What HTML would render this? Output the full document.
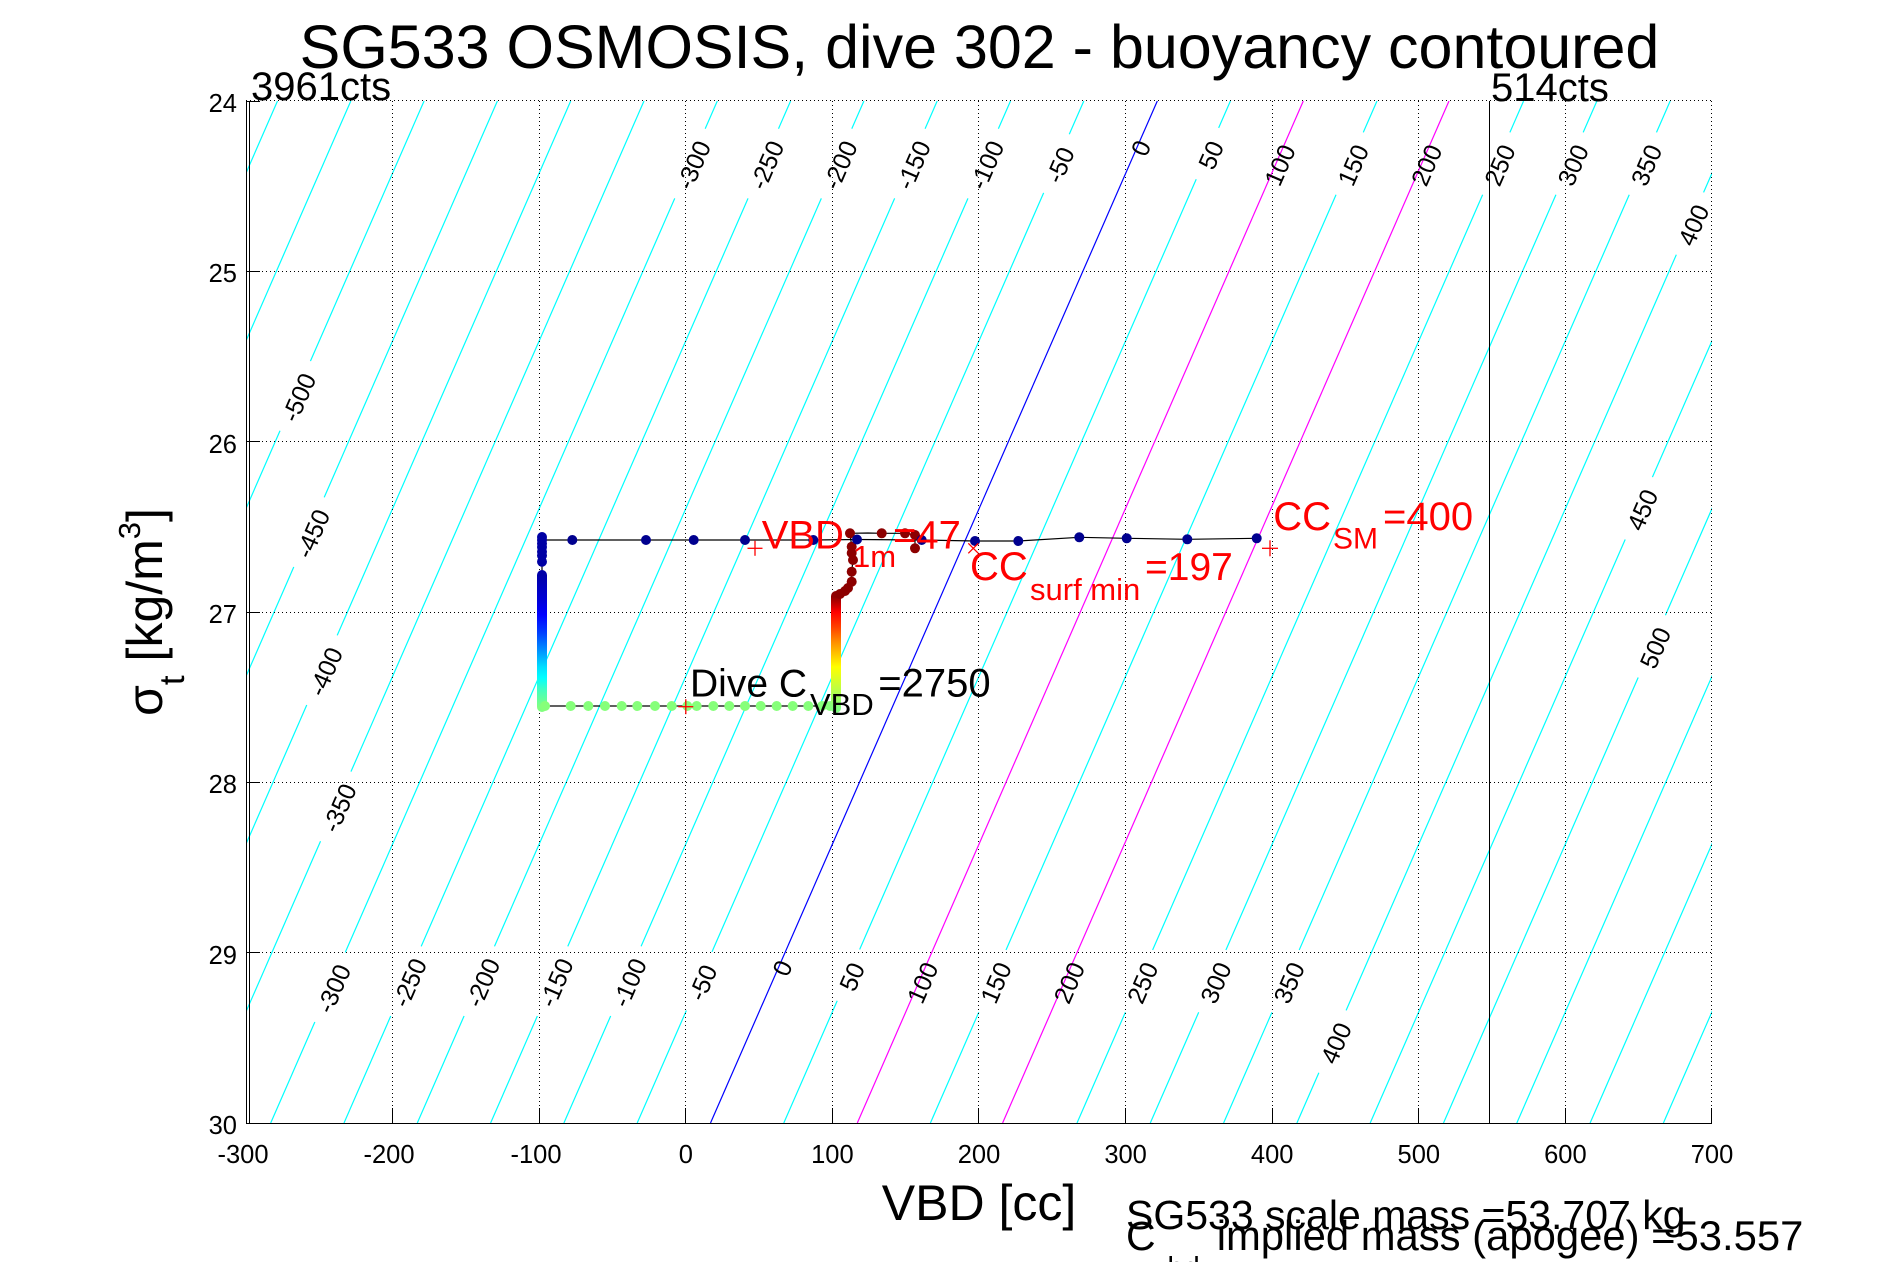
<!DOCTYPE html>
<html>
<head>
<meta charset="utf-8">
<style>
  html, body { margin: 0; padding: 0; background: #ffffff; }
  svg { display: block; }
  text { font-family: "Liberation Sans", Arial, Helvetica, sans-serif; }
</style>
</head>
<body>
<svg xmlns="http://www.w3.org/2000/svg" width="1891" height="1262" viewBox="0 0 1891 1262">
  <defs>
    <clipPath id="plot">
      <rect x="246" y="101" width="1466" height="1022"/>
    </clipPath>
    <mask id="gap" maskUnits="userSpaceOnUse" x="0" y="0" width="1891" height="1262">
      <rect x="0" y="0" width="1891" height="1262" fill="#fff"/>
      <g fill="#000">
        <rect x="-38" y="-13" width="76" height="26" transform="translate(693.3,165) rotate(-66.4)"/>
        <rect x="-38" y="-13" width="76" height="26" transform="translate(766.6,165) rotate(-66.4)"/>
        <rect x="-38" y="-13" width="76" height="26" transform="translate(839.9,165) rotate(-66.4)"/>
        <rect x="-38" y="-13" width="76" height="26" transform="translate(913.2,165) rotate(-66.4)"/>
        <rect x="-38" y="-13" width="76" height="26" transform="translate(986.5,165) rotate(-66.4)"/>
        <rect x="-32" y="-13" width="64" height="26" transform="translate(1059.8,165) rotate(-66.4)"/>
        <rect x="-21" y="-13" width="42" height="26" transform="translate(1140.6,148) rotate(-66.4)"/>
        <rect x="-28" y="-13" width="56" height="26" transform="translate(1210.8,155) rotate(-66.4)"/>
        <rect x="-34" y="-13" width="68" height="26" transform="translate(1279.7,165) rotate(-66.4)"/>
        <rect x="-34" y="-13" width="68" height="26" transform="translate(1353,165) rotate(-66.4)"/>
        <rect x="-34" y="-13" width="68" height="26" transform="translate(1426.3,165) rotate(-66.4)"/>
        <rect x="-34" y="-13" width="68" height="26" transform="translate(1499.6,165) rotate(-66.4)"/>
        <rect x="-34" y="-13" width="68" height="26" transform="translate(1572.9,165) rotate(-66.4)"/>
        <rect x="-34" y="-13" width="68" height="26" transform="translate(1646.2,165) rotate(-66.4)"/>
        <rect x="-34" y="-13" width="68" height="26" transform="translate(1693.3,225) rotate(-66.4)"/>
        <rect x="-38" y="-13" width="76" height="26" transform="translate(333.4,988.6) rotate(-66.4)"/>
        <rect x="-38" y="-13" width="76" height="26" transform="translate(409.3,982.6) rotate(-66.4)"/>
        <rect x="-38" y="-13" width="76" height="26" transform="translate(482.6,982.6) rotate(-66.4)"/>
        <rect x="-38" y="-13" width="76" height="26" transform="translate(555.9,982.6) rotate(-66.4)"/>
        <rect x="-38" y="-13" width="76" height="26" transform="translate(629.2,982.6) rotate(-66.4)"/>
        <rect x="-32" y="-13" width="64" height="26" transform="translate(702.5,982.6) rotate(-66.4)"/>
        <rect x="-21" y="-13" width="42" height="26" transform="translate(782.2,968) rotate(-66.4)"/>
        <rect x="-28" y="-13" width="56" height="26" transform="translate(851.8,976.6) rotate(-66.4)"/>
        <rect x="-34" y="-13" width="68" height="26" transform="translate(922.4,982.6) rotate(-66.4)"/>
        <rect x="-34" y="-13" width="68" height="26" transform="translate(995.7,982.6) rotate(-66.4)"/>
        <rect x="-34" y="-13" width="68" height="26" transform="translate(1069,982.6) rotate(-66.4)"/>
        <rect x="-34" y="-13" width="68" height="26" transform="translate(1142.3,982.6) rotate(-66.4)"/>
        <rect x="-34" y="-13" width="68" height="26" transform="translate(1215.6,982.6) rotate(-66.4)"/>
        <rect x="-34" y="-13" width="68" height="26" transform="translate(1288.9,982.6) rotate(-66.4)"/>
        <rect x="-34" y="-13" width="68" height="26" transform="translate(1335.8,1043) rotate(-66.4)"/>
        <rect x="-38" y="-13" width="76" height="26" transform="translate(298.6,397.4) rotate(-66.4)"/>
        <rect x="-38" y="-13" width="76" height="26" transform="translate(312.4,533.6) rotate(-66.4)"/>
        <rect x="-38" y="-13" width="76" height="26" transform="translate(325.3,671.6) rotate(-66.4)"/>
        <rect x="-38" y="-13" width="76" height="26" transform="translate(339.1,807.9) rotate(-66.4)"/>
        <rect x="-34" y="-13" width="68" height="26" transform="translate(1642.2,509.8) rotate(-66.4)"/>
        <rect x="-34" y="-13" width="68" height="26" transform="translate(1655.1,647.8) rotate(-66.4)"/>
      </g>
    </mask>
    <linearGradient id="gLeft" gradientUnits="userSpaceOnUse" x1="0" y1="575" x2="0" y2="707">
      <stop offset="0" stop-color="#0000a8"/>
      <stop offset="0.19" stop-color="#0000d8"/>
      <stop offset="0.30" stop-color="#0000ff"/>
      <stop offset="0.44" stop-color="#0040ff"/>
      <stop offset="0.57" stop-color="#0090ff"/>
      <stop offset="0.70" stop-color="#00e0ff"/>
      <stop offset="0.78" stop-color="#00ffff"/>
      <stop offset="0.87" stop-color="#40ffc0"/>
      <stop offset="1" stop-color="#80ff80"/>
    </linearGradient>
    <linearGradient id="gRight" gradientUnits="userSpaceOnUse" x1="0" y1="597" x2="0" y2="708">
      <stop offset="0" stop-color="#900000"/>
      <stop offset="0.08" stop-color="#d00000"/>
      <stop offset="0.135" stop-color="#ff0000"/>
      <stop offset="0.27" stop-color="#ff4000"/>
      <stop offset="0.41" stop-color="#ff9000"/>
      <stop offset="0.63" stop-color="#ffff00"/>
      <stop offset="0.82" stop-color="#c0ff40"/>
      <stop offset="1" stop-color="#80ff80"/>
    </linearGradient>
  </defs>

  <rect x="0" y="0" width="1891" height="1262" fill="#ffffff"/>

  <!-- Title -->
  <text x="979.5" y="68" font-size="61" text-anchor="middle" fill="#000">SG533 OSMOSIS, dive 302 - buoyancy contoured</text>

  <!-- Contour lines (cyan) -->
  <g clip-path="url(#plot)">
    <g mask="url(#gap)" stroke="#00ffff" stroke-width="1.2" fill="none">
      <line x1="277.5" y1="101" x2="-169.1" y2="1123"/>
      <line x1="350.8" y1="101" x2="-95.8" y2="1123"/>
      <line x1="424.1" y1="101" x2="-22.5" y2="1123"/>
      <line x1="497.4" y1="101" x2="50.8" y2="1123"/>
      <line x1="570.7" y1="101" x2="124.1" y2="1123"/>
      <line x1="644" y1="101" x2="197.4" y2="1123"/>
      <line x1="717.3" y1="101" x2="270.7" y2="1123"/>
      <line x1="790.6" y1="101" x2="344" y2="1123"/>
      <line x1="863.9" y1="101" x2="417.3" y2="1123"/>
      <line x1="937.2" y1="101" x2="490.6" y2="1123"/>
      <line x1="1010.5" y1="101" x2="563.9" y2="1123"/>
      <line x1="1083.8" y1="101" x2="637.2" y2="1123"/>
      <line x1="1230.4" y1="101" x2="783.8" y2="1123"/>
      <line x1="1377" y1="101" x2="930.4" y2="1123"/>
      <line x1="1523.6" y1="101" x2="1077" y2="1123"/>
      <line x1="1596.9" y1="101" x2="1150.3" y2="1123"/>
      <line x1="1670.2" y1="101" x2="1223.6" y2="1123"/>
      <line x1="1743.5" y1="101" x2="1296.9" y2="1123"/>
      <line x1="1816.8" y1="101" x2="1370.2" y2="1123"/>
      <line x1="1890.1" y1="101" x2="1443.5" y2="1123"/>
      <line x1="1963.4" y1="101" x2="1516.8" y2="1123"/>
      <line x1="2036.7" y1="101" x2="1590.1" y2="1123"/>
      <line x1="2110" y1="101" x2="1663.4" y2="1123"/>
    </g>
  </g>

  <!-- Grid (dotted) -->
  <g stroke="#000" stroke-width="1" stroke-dasharray="1,3" shape-rendering="crispEdges" fill="none">
    <line x1="392.5" y1="101" x2="392.5" y2="1123"/>
    <line x1="539.5" y1="101" x2="539.5" y2="1123"/>
    <line x1="685.5" y1="101" x2="685.5" y2="1123"/>
    <line x1="832.5" y1="101" x2="832.5" y2="1123"/>
    <line x1="978.5" y1="101" x2="978.5" y2="1123"/>
    <line x1="1125.5" y1="101" x2="1125.5" y2="1123"/>
    <line x1="1272.5" y1="101" x2="1272.5" y2="1123"/>
    <line x1="1418.5" y1="101" x2="1418.5" y2="1123"/>
    <line x1="1565.5" y1="101" x2="1565.5" y2="1123"/>
    <line x1="1711.5" y1="101" x2="1711.5" y2="1123"/>
    <line x1="246" y1="100.5" x2="1712" y2="100.5"/>
    <line x1="246" y1="271.5" x2="1712" y2="271.5"/>
    <line x1="246" y1="441.5" x2="1712" y2="441.5"/>
    <line x1="246" y1="612.5" x2="1712" y2="612.5"/>
    <line x1="246" y1="782.5" x2="1712" y2="782.5"/>
    <line x1="246" y1="952.5" x2="1712" y2="952.5"/>
  </g>

  <!-- Blue zero contour and magenta lines -->
  <g clip-path="url(#plot)" fill="none" stroke-width="1.2">
    <line x1="1157.3" y1="101" x2="710.5" y2="1123" stroke="#0000ff"/>
    <line x1="1303.3" y1="101" x2="857.3" y2="1123" stroke="#ff00ff"/>
    <line x1="1449" y1="101" x2="1002.6" y2="1123" stroke="#ff00ff"/>
  </g>

  <!-- Contour labels -->
  <g font-size="25" fill="#000" text-anchor="middle">
    <text transform="translate(693.3,165) rotate(-66.4)" dy="9">-300</text>
    <text transform="translate(766.6,165) rotate(-66.4)" dy="9">-250</text>
    <text transform="translate(839.9,165) rotate(-66.4)" dy="9">-200</text>
    <text transform="translate(913.2,165) rotate(-66.4)" dy="9">-150</text>
    <text transform="translate(986.5,165) rotate(-66.4)" dy="9">-100</text>
    <text transform="translate(1059.8,165) rotate(-66.4)" dy="9">-50</text>
    <text transform="translate(1140.6,148) rotate(-66.4)" dy="9">0</text>
    <text transform="translate(1210.8,155) rotate(-66.4)" dy="9">50</text>
    <text transform="translate(1279.7,165) rotate(-66.4)" dy="9">100</text>
    <text transform="translate(1353,165) rotate(-66.4)" dy="9">150</text>
    <text transform="translate(1426.3,165) rotate(-66.4)" dy="9">200</text>
    <text transform="translate(1499.6,165) rotate(-66.4)" dy="9">250</text>
    <text transform="translate(1572.9,165) rotate(-66.4)" dy="9">300</text>
    <text transform="translate(1646.2,165) rotate(-66.4)" dy="9">350</text>
    <text transform="translate(1693.3,225) rotate(-66.4)" dy="9">400</text>

    <text transform="translate(333.4,988.6) rotate(-66.4)" dy="9">-300</text>
    <text transform="translate(409.3,982.6) rotate(-66.4)" dy="9">-250</text>
    <text transform="translate(482.6,982.6) rotate(-66.4)" dy="9">-200</text>
    <text transform="translate(555.9,982.6) rotate(-66.4)" dy="9">-150</text>
    <text transform="translate(629.2,982.6) rotate(-66.4)" dy="9">-100</text>
    <text transform="translate(702.5,982.6) rotate(-66.4)" dy="9">-50</text>
    <text transform="translate(782.2,968) rotate(-66.4)" dy="9">0</text>
    <text transform="translate(851.8,976.6) rotate(-66.4)" dy="9">50</text>
    <text transform="translate(922.4,982.6) rotate(-66.4)" dy="9">100</text>
    <text transform="translate(995.7,982.6) rotate(-66.4)" dy="9">150</text>
    <text transform="translate(1069,982.6) rotate(-66.4)" dy="9">200</text>
    <text transform="translate(1142.3,982.6) rotate(-66.4)" dy="9">250</text>
    <text transform="translate(1215.6,982.6) rotate(-66.4)" dy="9">300</text>
    <text transform="translate(1288.9,982.6) rotate(-66.4)" dy="9">350</text>
    <text transform="translate(1335.8,1043) rotate(-66.4)" dy="9">400</text>

    <text transform="translate(298.6,397.4) rotate(-66.4)" dy="9">-500</text>
    <text transform="translate(312.4,533.6) rotate(-66.4)" dy="9">-450</text>
    <text transform="translate(325.3,671.6) rotate(-66.4)" dy="9">-400</text>
    <text transform="translate(339.1,807.9) rotate(-66.4)" dy="9">-350</text>

    <text transform="translate(1642.2,509.8) rotate(-66.4)" dy="9">450</text>
    <text transform="translate(1655.1,647.8) rotate(-66.4)" dy="9">500</text>
  </g>

  <!-- Count lines -->
  <line x1="249.5" y1="101" x2="249.5" y2="1123" stroke="#000" stroke-width="1"/>
  <line x1="1489.5" y1="101" x2="1489.5" y2="1123" stroke="#000" stroke-width="1"/>
  <text x="251" y="100" font-size="40" fill="#000">3961cts</text>
  <text x="1491" y="101" font-size="40" fill="#000">514cts</text>

  <!-- Axes -->
  <g stroke="#000" stroke-width="1" shape-rendering="crispEdges" fill="none">
    <line x1="246.5" y1="101" x2="246.5" y2="1123.5"/>
    <line x1="246" y1="1123.5" x2="1712" y2="1123.5"/>
    <line x1="246" y1="101.5" x2="260" y2="101.5"/>
    <line x1="246" y1="271.5" x2="260" y2="271.5"/>
    <line x1="246" y1="441.5" x2="260" y2="441.5"/>
    <line x1="246" y1="612.5" x2="260" y2="612.5"/>
    <line x1="246" y1="782.5" x2="260" y2="782.5"/>
    <line x1="246" y1="952.5" x2="260" y2="952.5"/>
    <line x1="392.5" y1="1108" x2="392.5" y2="1123"/>
    <line x1="539.5" y1="1108" x2="539.5" y2="1123"/>
    <line x1="685.5" y1="1108" x2="685.5" y2="1123"/>
    <line x1="832.5" y1="1108" x2="832.5" y2="1123"/>
    <line x1="978.5" y1="1108" x2="978.5" y2="1123"/>
    <line x1="1125.5" y1="1108" x2="1125.5" y2="1123"/>
    <line x1="1272.5" y1="1108" x2="1272.5" y2="1123"/>
    <line x1="1418.5" y1="1108" x2="1418.5" y2="1123"/>
    <line x1="1565.5" y1="1108" x2="1565.5" y2="1123"/>
    <line x1="1711.5" y1="1108" x2="1711.5" y2="1123.5"/>
  </g>

  <!-- Tick labels -->
  <g font-size="25.5" fill="#000" text-anchor="end">
    <text x="237" y="112">24</text>
    <text x="237" y="282">25</text>
    <text x="237" y="453">26</text>
    <text x="237" y="623">27</text>
    <text x="237" y="793">28</text>
    <text x="237" y="964">29</text>
    <text x="237" y="1134">30</text>
  </g>
  <g font-size="25.5" fill="#000" text-anchor="middle">
    <text x="243" y="1163">-300</text>
    <text x="389" y="1163">-200</text>
    <text x="536" y="1163">-100</text>
    <text x="685.8" y="1163">0</text>
    <text x="832.4" y="1163">100</text>
    <text x="979" y="1163">200</text>
    <text x="1125.6" y="1163">300</text>
    <text x="1272.2" y="1163">400</text>
    <text x="1418.8" y="1163">500</text>
    <text x="1565.4" y="1163">600</text>
    <text x="1712" y="1163">700</text>
  </g>

  <!-- Axis labels -->
  <text x="979" y="1220" font-size="50" text-anchor="middle" fill="#000">VBD [cc]</text>
  <text transform="translate(162,612) rotate(-90)" font-size="50" text-anchor="middle" fill="#000">σ<tspan font-size="35" dy="22">t</tspan><tspan dy="-22"> [kg/m</tspan><tspan font-size="31" dy="-22">3</tspan><tspan dy="22">]</tspan></text>

  <!-- Dive track -->
  <g clip-path="url(#plot)">
    <path d="M1256.7,538.3 L1187.3,539.3 L1126.7,538.3 L1079.3,537.3 L1018.3,541 L975,541 L921.7,540 L857,539.5 L813.3,540 L745,540 L693.7,540 L646,540 L572.3,540 L542,540 L542,706 L836,706 L836,597 L845,591 L848,588 L851.7,581.7 L851.7,571.7 L853,560 L851.7,553 L851.7,546.7 L850,533.3 L868,533 L881.7,533.3 L905,533.3 L915,535 L915,548.3" fill="none" stroke="#000" stroke-width="1.2"/>

    <rect x="537" y="570" width="10" height="142" rx="5" fill="url(#gLeft)"/>
    <g fill="#0000a4">
      <circle cx="542" cy="537" r="5"/>
      <circle cx="542" cy="540" r="5"/>
      <circle cx="542" cy="543.5" r="5"/>
      <circle cx="542" cy="547" r="5"/>
      <circle cx="542" cy="551.7" r="5"/>
      <circle cx="542" cy="555.5" r="5"/>
      <circle cx="542" cy="561.7" r="5"/>
    </g>

    <g fill="#86ff7a">
      <circle cx="545" cy="706" r="5"/>
      <circle cx="570.7" cy="706" r="5"/>
      <circle cx="588.3" cy="706" r="5"/>
      <circle cx="605" cy="706" r="5"/>
      <circle cx="621.7" cy="706" r="5"/>
      <circle cx="637.3" cy="706" r="5"/>
      <circle cx="655" cy="706" r="5"/>
      <circle cx="671.7" cy="706" r="5"/>
      <circle cx="687.3" cy="706" r="5"/>
      <circle cx="696.7" cy="706" r="5"/>
      <circle cx="713.3" cy="706" r="5"/>
      <circle cx="729.3" cy="706" r="5"/>
      <circle cx="745" cy="706" r="5"/>
      <circle cx="760.7" cy="706" r="5"/>
      <circle cx="776.7" cy="706" r="5"/>
      <circle cx="792.7" cy="706" r="5"/>
      <circle cx="808.3" cy="706" r="5"/>
      <circle cx="822" cy="706" r="5"/>
      <circle cx="830" cy="706" r="5"/>
    </g>

    <rect x="831" y="591" width="10" height="122" rx="5" fill="url(#gRight)"/>
    <g fill="#8c0000">
      <circle cx="840" cy="594" r="5"/>
      <circle cx="845" cy="591" r="5"/>
      <circle cx="848" cy="588" r="5"/>
      <circle cx="851.7" cy="581.7" r="5"/>
      <circle cx="851.7" cy="571.7" r="5"/>
      <circle cx="853" cy="560" r="5"/>
      <circle cx="851.7" cy="553" r="5"/>
      <circle cx="851.7" cy="546.7" r="5"/>
      <circle cx="850" cy="533.3" r="5"/>
      <circle cx="881.7" cy="533.3" r="5"/>
      <circle cx="905" cy="533.3" r="5"/>
      <circle cx="915" cy="535" r="5"/>
      <circle cx="915" cy="548.3" r="5"/>
    </g>

    <g fill="#00008f">
      <circle cx="572.3" cy="540" r="5"/>
      <circle cx="646" cy="540" r="5"/>
      <circle cx="693.7" cy="540" r="5"/>
      <circle cx="745" cy="540" r="5"/>
      <circle cx="813.3" cy="540" r="5"/>
      <circle cx="857" cy="539.5" r="5"/>
      <circle cx="921.7" cy="540" r="5"/>
      <circle cx="975" cy="541" r="5"/>
      <circle cx="1018.3" cy="541" r="5"/>
      <circle cx="1079.3" cy="537.3" r="5"/>
      <circle cx="1126.7" cy="538.3" r="5"/>
      <circle cx="1187.3" cy="539.3" r="5"/>
      <circle cx="1256.7" cy="538.3" r="5"/>
    </g>
  </g>

  <!-- Red markers -->
  <g stroke="#ff0000" stroke-width="1.3" fill="none">
    <line x1="747.5" y1="548.3" x2="762.5" y2="548.3"/>
    <line x1="755" y1="540.8" x2="755" y2="555.8"/>
    <line x1="678.3" y1="706.7" x2="693.3" y2="706.7"/>
    <line x1="685.8" y1="699.2" x2="685.8" y2="714.2"/>
    <line x1="968.3" y1="543.3" x2="978.3" y2="553.3"/>
    <line x1="968.3" y1="553.3" x2="978.3" y2="543.3"/>
    <line x1="1262" y1="548.3" x2="1278" y2="548.3"/>
    <line x1="1270" y1="540.3" x2="1270" y2="556.3"/>
  </g>

  <!-- Annotation labels -->
  <g fill="#ff0000">
    <text x="761.7" y="548.3" font-size="40">VBD</text>
    <text x="853" y="567" font-size="31">1m</text>
    <text x="893" y="548.3" font-size="40">=47</text>

    <text x="970" y="580" font-size="40">CC</text>
    <text x="1030" y="600" font-size="31">surf min</text>
    <text x="1145" y="580" font-size="39">=197</text>

    <text x="1273.3" y="530" font-size="40">CC</text>
    <text x="1333" y="548.3" font-size="30">SM</text>
    <text x="1383" y="530" font-size="40">=400</text>
  </g>
  <g fill="#000">
    <text x="690" y="696.7" font-size="39">Dive C</text>
    <text x="810" y="715" font-size="31">VBD</text>
    <text x="878.3" y="696.7" font-size="40">=2750</text>
  </g>

  <!-- Bottom right texts -->
  <g fill="#000">
    <text x="1126" y="1229" font-size="41">SG533 scale mass =53.707 kg</text>
    <text x="1126" y="1250" font-size="41">C</text>
    <text x="1153" y="1277" font-size="29">vbd</text>
    <text x="1216.7" y="1250" font-size="41.8">implied mass (apogee) =53.557</text>
  </g>
</svg>
</body>
</html>
